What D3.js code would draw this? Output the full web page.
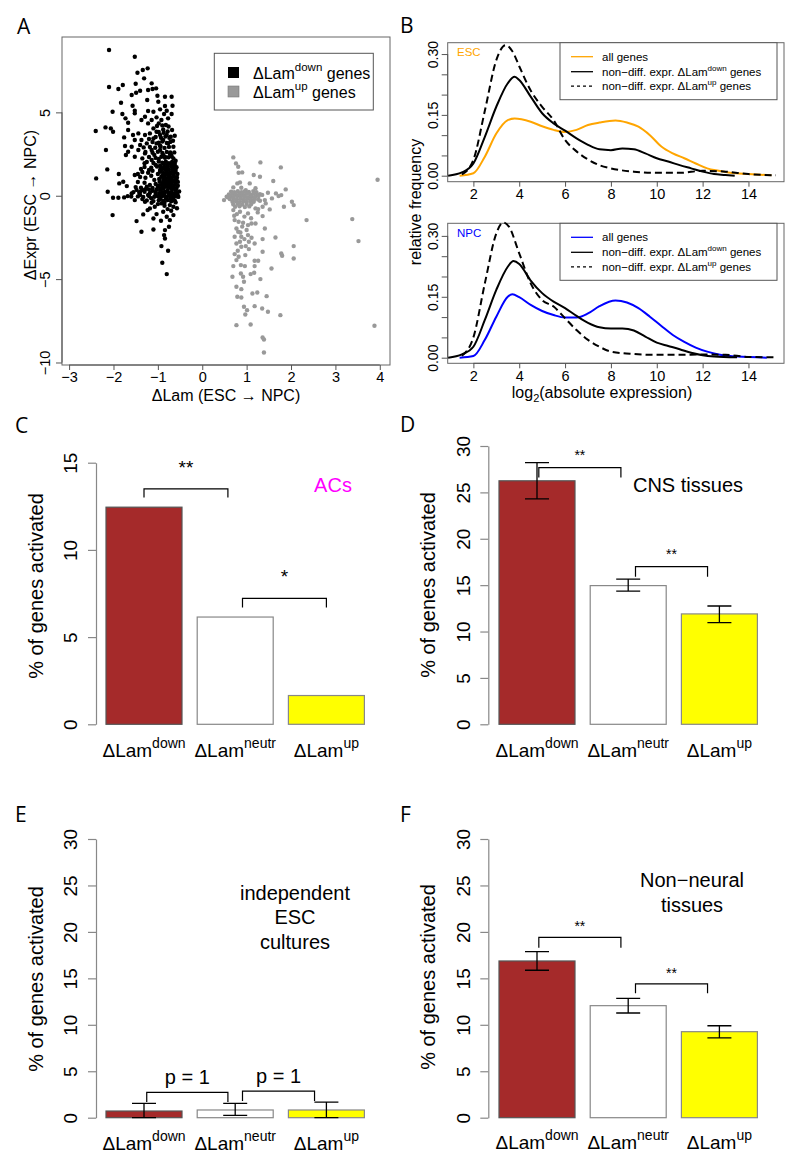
<!DOCTYPE html>
<html><head><meta charset="utf-8">
<script src="https://cdn.jsdelivr.net/npm/d3@7"></script>
<style>body{margin:0;background:#fff} text{font-family:"Liberation Sans",Arial,Helvetica,sans-serif}</style>
</head><body><script>
// ---------- DATA ----------
const lamDownPoints = [[-2.10,8.74],[-1.52,8.34],[-1.23,7.64],[-1.34,7.54],[-1.46,7.38],[-1.31,7.04],[-2.10,6.52],[-1.89,6.40],[-1.79,6.64],[-1.50,6.72],[-1.59,6.04],[-1.49,6.18],[-1.40,6.30],[-1.22,6.34],[-1.14,6.74],[-1.12,6.40],[-1.04,6.44],[-1.01,6.00],[-0.84,5.94],[-0.69,5.94],[-1.24,5.74],[-1.83,5.58],[-1.57,5.40],[-0.99,5.64],[-0.84,5.38],[-0.67,5.40],[-1.52,5.10],[-1.52,4.94],[-2.02,5.04],[-1.80,4.90],[-1.22,5.08],[-1.10,5.04],[-0.95,5.18],[-0.80,5.10],[-0.86,4.90],[-0.69,4.90],[-1.73,4.64],[-1.37,4.54],[-1.29,4.74],[-1.14,4.54],[-1.03,4.70],[-0.92,4.54],[-0.77,4.64],[-1.67,4.38],[-1.22,4.34],[-0.98,4.34],[-0.82,4.24],[-2.40,3.88],[-2.18,4.10],[-2.06,4.04],[-2.01,3.84],[-1.67,3.94],[-1.10,4.04],[-1.03,3.84],[-0.88,3.98],[-0.68,3.94],[-1.56,3.64],[-1.44,3.74],[-1.29,3.64],[-1.18,3.74],[-0.95,3.64],[-0.80,3.64],[-0.71,3.54],[-1.76,3.50],[-1.52,3.34],[-1.37,3.34],[-1.10,3.44],[-0.88,3.34],[-2.17,2.74],[-1.74,2.98],[-1.59,2.94],[-1.40,3.04],[-1.25,3.14],[-1.03,3.14],[-0.77,3.14],[-0.65,2.94],[-1.67,2.64],[-1.44,2.74],[-1.29,2.54],[-1.14,2.74],[-0.95,2.74],[-0.73,2.54],[-1.72,2.44],[-1.52,2.34],[-1.35,2.24],[-0.84,2.34],[-0.65,2.24],[-1.14,2.14],
[-2.14,1.58],[-2.39,1.04],[-1.88,1.30],[-1.52,1.24],[-1.87,0.74],[-1.78,0.84],[-1.70,0.58],[-2.13,0.24],[-2.01,-0.12],[-1.89,-0.12],[-1.76,-0.10],[-1.68,-0.02],[-1.59,0.14],[-1.52,-0.26],[-1.40,0.24],[-1.29,-0.36],[-1.14,-0.42],[-0.92,-0.46],[-0.73,-0.56],[-0.65,-0.66],[-2.02,-1.16],[-1.48,-1.52],[-1.33,-1.12],[-1.23,-0.86],[-1.10,-1.36],[-1.03,-1.10],[-0.93,-1.50],[-0.88,-0.96],[-0.80,-1.26],[-0.73,-1.46],[-0.65,-1.16],[-1.37,-2.16],[-1.10,-2.02],[-0.84,-2.06],[-0.75,-1.86],[-0.86,-2.36],[-0.84,-2.56],[-0.92,-3.02],[-0.77,-3.30],[-0.90,-4.02],[-0.80,-4.70],[-1.07,-0.66],[-1.18,-0.76],
[-1.25,2.02],[-1.10,1.96],[-0.98,2.05],[-0.90,1.98],[-0.82,2.04],[-0.75,1.95],[-0.68,2.03],[-0.62,1.97],
[-1.30,1.72],[-1.15,1.68],[-1.02,1.75],[-0.93,1.66],[-0.86,1.73],[-0.78,1.69],[-0.70,1.74],[-0.64,1.67],[-0.58,1.71],
[-1.35,1.42],[-1.22,1.38],[-0.95,1.44],[-0.88,1.36],[-0.80,1.41],[-0.72,1.37],[-0.66,1.45],[-0.60,1.39],
[-1.40,1.12],[-1.28,1.08],[-0.92,1.14],[-0.84,1.06],[-0.77,1.11],[-0.70,1.07],[-0.63,1.13],[-0.57,1.09],
[-1.45,0.82],[-1.30,0.78],[-0.96,0.84],[-0.89,0.76],[-0.82,0.81],[-0.74,0.77],[-0.68,0.85],[-0.61,0.79],[-0.55,0.83],
[-1.50,0.52],[-1.38,0.48],[-1.25,0.54],[-1.12,0.47],[-1.00,0.53],[-0.93,0.46],[-0.86,0.51],[-0.79,0.55],[-0.72,0.48],[-0.65,0.52],[-0.58,0.46],
[-1.55,0.22],[-1.42,0.18],[-1.30,0.24],[-1.18,0.17],[-1.05,0.23],[-0.97,0.16],[-0.90,0.21],[-0.83,0.25],[-0.76,0.18],[-0.70,0.22],[-0.63,0.15],[-0.56,0.20],[-0.52,0.26],
[-1.45,-0.04],[-1.33,-0.07],[-1.20,-0.02],[-1.08,-0.06],[-1.00,-0.03],[-0.93,-0.08],[-0.86,-0.01],[-0.80,-0.05],[-0.73,-0.02],[-0.67,-0.09],[-0.60,-0.04],[-0.54,-0.07],
[-1.25,-0.28],[-1.10,-0.32],[-0.98,-0.27],[-0.88,-0.31],[-0.78,-0.26],[-0.70,-0.33],[-0.62,-0.29],
[-1.20,2.32],[-1.05,2.27],[-0.92,2.34],[-0.84,2.28],[-0.76,2.31],[-0.69,2.36],
[-1.28,2.62],[-1.12,2.58],[-1.00,2.64],[-0.90,2.57],[-0.80,2.63],[-0.72,2.60],
[-1.18,2.92],[-1.06,2.88],[-0.94,2.95],[-0.85,2.87],[-0.75,2.93],
[-1.12,3.22],[-0.98,3.18],[-0.90,3.25],[-0.80,3.17],[-0.72,3.23],
[-1.05,3.52],[-0.93,3.48],[-0.83,3.55],[-0.74,3.47],
[-0.98,3.82],[-0.87,3.78],[-0.78,3.85],
[-1.02,4.18],[-0.90,4.22],[-0.76,4.15],
[-1.05,1.85],[-0.95,1.55],[-0.75,1.55],[-0.85,1.25],[-0.65,1.25],[-0.88,0.95],[-0.72,0.95],[-0.58,0.95],[-0.80,0.65],[-0.62,0.65],[-1.18,0.65],[-1.35,0.35],[-0.95,0.35],[-0.78,0.35],[-0.60,0.35],[-1.22,0.05],[-0.88,0.08],[-0.68,0.08],[-0.55,0.02],[-0.82,-0.18],[-0.66,-0.18],[-1.15,-0.15],[-1.35,-0.20],[-1.60,-0.05],[-1.00,-0.50],[-0.85,-0.60],[-0.78,-0.80],[-0.70,-0.90],[-0.60,-0.40],[-0.57,-0.75],
[-1.15,1.20],[-1.08,0.95],[-1.00,1.30],[-0.97,1.00],[-0.90,1.60],[-0.83,1.55],[-0.73,1.25],[-0.67,1.60],[-0.60,1.55],[-0.62,1.85],[-0.70,1.88],[-0.78,1.85],[-0.86,1.88],[-0.95,1.80],[-1.12,1.50],[-1.05,0.70],[-0.99,0.60],[-0.92,0.65],[-0.85,0.68],[-0.70,0.68],[-0.64,0.92],[-0.76,0.88],[-0.82,1.00],[-0.90,1.20],[-0.79,1.30],[-0.56,1.30],[-0.55,0.60],[-0.58,0.10],[-0.65,-0.05],[-0.75,0.05],[-0.85,0.15],[-0.95,0.05],[-1.05,0.10],[-1.12,0.30],[-1.20,0.38],[-1.28,0.40],[-1.40,0.05],[-1.48,0.35],[-0.68,0.38],[-0.74,0.62],[-0.88,0.42],[-1.03,0.38],[-0.98,2.20],[-0.88,2.45],[-0.70,2.45],[-0.63,2.60],[-0.60,2.10],[-1.30,1.95],[-1.38,1.60],[-1.45,1.30],[-1.20,1.55],[-1.08,2.45],[-0.95,3.00],[-0.66,3.30],[-0.62,3.60],[-1.20,3.40],[-1.32,2.90],[-0.85,-0.42],[-0.95,-0.20],[-0.72,-0.15]];

const lamUpPoints = [[0.70,2.30],[0.76,1.94],[0.81,1.74],[1.31,2.00],[1.77,1.70],[0.82,1.38],[0.90,1.40],[1.16,1.24],[1.30,1.14],[1.60,0.88],[0.79,0.74],[1.07,0.74],[0.88,0.48],[0.98,0.34],[1.88,0.38],[1.66,0.14],[1.78,0.04],[1.48,0.18],[1.72,-0.02],[1.57,-0.16],[2.02,-0.36],[2.06,-0.56],[1.84,-0.66],[1.41,-0.26],[1.36,-0.66],[1.43,-0.46],[1.52,-0.82],[0.49,-0.26],[0.58,-0.10],[0.70,-0.86],[0.85,-0.96],[1.03,-1.06],[1.20,-0.76],[1.26,-0.80],[0.73,-1.46],[0.82,-1.56],[0.92,-1.62],[1.03,-1.76],[1.11,-1.66],[1.20,-1.66],[1.36,-1.22],[1.41,-1.96],[0.77,-1.96],[0.81,-2.16],[0.73,-2.46],[0.88,-2.46],[1.03,-2.36],[1.11,-2.52],[1.65,-2.50],[1.36,-2.60],[0.77,-2.86],[0.85,-2.76],[1.05,-2.76],[1.18,-2.86],[0.88,-3.06],[0.98,-3.02],[2.06,-3.02],[1.36,-3.36],[1.78,-3.46],[1.80,-3.60],[0.73,-3.50],[0.82,-3.66],[0.97,-3.56],[0.77,-3.86],[1.18,-3.90],[1.26,-3.90],[2.06,-3.76],[0.70,-4.22],[0.87,-4.16],[0.96,-4.22],[1.18,-4.22],[1.56,-4.36],[0.68,-4.86],[0.87,-4.66],[0.92,-4.86],[1.09,-4.70],[1.17,-4.62],[1.31,-5.00],[0.94,-5.16],[0.77,-5.46],[0.88,-5.60],[1.13,-5.86],[1.24,-5.80],[1.45,-6.02],[0.79,-6.06],[0.88,-6.10],[0.94,-6.66],[1.01,-6.86],[1.18,-6.62],[1.35,-6.76],[1.48,-6.96],[1.76,-7.16],[0.97,-7.12],[0.77,-7.76],[1.09,-7.72],[1.36,-8.50],[1.39,-8.62],[1.39,-9.40],[2.35,-1.46],[3.38,-1.40],[3.52,-2.72],[3.95,0.96],[3.88,-7.80],
[0.65,0.25],[0.72,0.22],[0.80,0.27],[0.88,0.21],[0.95,0.26],[1.05,0.23],[1.15,0.28],[1.22,0.22],
[0.60,0.08],[0.68,0.12],[0.76,0.07],[0.84,0.11],[0.92,0.06],[1.00,0.12],[1.08,0.08],[1.16,0.13],[1.24,0.07],[1.30,0.10],
[0.55,-0.06],[0.63,-0.03],[0.71,-0.07],[0.79,-0.02],[0.87,-0.06],[0.95,-0.04],[1.03,-0.08],[1.11,-0.03],[1.19,-0.06],[1.27,-0.02],
[0.62,-0.20],[0.70,-0.17],[0.78,-0.22],[0.86,-0.18],[0.94,-0.21],[1.02,-0.16],[1.10,-0.22],[1.18,-0.19],[1.26,-0.23],
[0.68,-0.36],[0.76,-0.33],[0.84,-0.38],[0.92,-0.34],[1.00,-0.37],[1.08,-0.32],[1.16,-0.36],
[0.70,-0.52],[0.80,-0.48],[0.90,-0.53],[1.00,-0.49],[1.10,-0.51],
[0.74,-0.66],[0.84,-0.63],[0.96,-0.68],[1.06,-0.64],
[0.78,-1.10],[0.95,-1.25],[1.10,-1.35],[0.72,-1.20],[0.90,-1.85],[1.00,-2.05],[0.86,-2.20],[0.95,-2.60],[0.80,-3.30],[1.05,-3.20],[1.25,-1.00],[1.30,-0.30],[1.35,0.05],[1.20,0.45],[0.70,0.50],[0.85,0.80]];

const scatterXTicks = [-3,-2,-1,0,1,2,3,4];
const scatterYTicks = [-10,-5,0,5];

// densities (panel B)
const escAllX  = [1.4,2,2.5,3,3.5,3.8,4.5,5,5.5,6,6.5,7,7.5,8.2,8.7,9.2,9.7,10.2,10.7,11.2,11.7,12.2,12.7,13.2,14,15];
const escAllY  = [0,0.006,0.047,0.104,0.137,0.141,0.133,0.122,0.113,0.108,0.113,0.125,0.131,0.136,0.131,0.121,0.1,0.072,0.055,0.043,0.03,0.018,0.012,0.007,0.004,0.001];
const escDownX = [0.9,1.5,2,2.5,3,3.5,3.8,4,4.5,5,5.5,6,6.5,7,7.5,8,8.5,9,9.5,10,10.5,11,11.5,12,12.5,13,13.4];
const escDownY = [0,0.008,0.03,0.096,0.17,0.228,0.244,0.236,0.195,0.154,0.129,0.111,0.092,0.076,0.065,0.063,0.067,0.065,0.055,0.043,0.035,0.026,0.018,0.01,0.004,0.002,0];
const escUpX   = [1.5,2,2.5,3,3.4,3.7,4,4.5,5,5.5,6,6.5,7,7.5,8,9,10,11,12,13,14,15.2];
const escUpY   = [0.003,0.039,0.16,0.285,0.322,0.307,0.27,0.21,0.17,0.137,0.088,0.06,0.04,0.026,0.018,0.01,0.007,0.007,0.012,0.01,0.004,0.001];
const npcAllX  = [1.4,2,2.5,3,3.5,3.7,4,4.5,5,5.5,6,6.5,7,7.5,8.2,8.7,9.2,9.7,10.2,10.7,11.2,11.7,12.2,12.7,13.2,14,14.8];
const npcAllY  = [0,0.004,0.044,0.101,0.15,0.156,0.149,0.13,0.115,0.105,0.099,0.099,0.109,0.127,0.141,0.136,0.122,0.101,0.078,0.056,0.039,0.025,0.015,0.008,0.004,0.002,0];
const npcDownX = [0.9,1.5,2,2.5,3,3.5,3.75,4,4.5,5,5.5,6,6.5,7,7.5,8,8.5,9,9.5,10,10.5,11,11.5,12,12.5,13.5];
const npcDownY = [0,0.008,0.027,0.093,0.167,0.224,0.238,0.231,0.19,0.159,0.138,0.122,0.103,0.086,0.075,0.072,0.072,0.067,0.052,0.037,0.029,0.021,0.012,0.006,0.003,0.001];
const npcUpX   = [1.5,2,2.5,3,3.3,3.55,4,4.5,5,5.5,6,6.5,7,7.5,8,9,10,11,12,13,14,15.2];
const npcUpY   = [0.005,0.05,0.183,0.306,0.333,0.323,0.257,0.183,0.142,0.126,0.097,0.068,0.044,0.027,0.015,0.009,0.007,0.007,0.008,0.007,0.002,0.001];
const densXTicks = [2,4,6,8,10,12,14];
const densYTicks = [0,0.05,0.10,0.15,0.20,0.25,0.30];
const densYLabels = ["0.00","","","0.15","","","0.30"];

// bar panels
const categories = ["down","neutr","up"];
const barColors = ["#A52A2A","#FFFFFF","#FFFF00"];
const acsValues = [12.45,6.15,1.65];
const cnsValues = [26.25,14.95,11.9];
const cnsLow  = [24.3,14.35,10.95];
const cnsHigh = [28.2,15.65,12.75];
const escCultValues = [0.72,0.83,0.83];
const escCultLow  = [0,0.25,0];
const escCultHigh = [1.55,1.55,1.68];
const nonNeuralValues = [16.87,12.06,9.26];
const nonNeuralLow  = [15.87,11.27,8.6];
const nonNeuralHigh = [17.87,12.85,9.9];
const ticks15 = [0,5,10,15];
const ticks30 = [0,5,10,15,20,25,30];

// ---------- DRAW ----------
const svg = d3.select("body").append("svg").attr("width",800).attr("height",1166);
const FONT = '"Liberation Sans",Arial,Helvetica,sans-serif';

function panelLetter(t,x,y){
  svg.append("text").attr("x",x).attr("y",y).attr("font-size",21)
    .style("font-family",'"Open Sans","Noto Sans",sans-serif').text(t);
}
function lamText(g,x,y,sup,fs,supFs,suffix,anchor){
  const t = g.append("text").attr("x",x).attr("y",y).attr("font-size",fs)
    .attr("text-anchor",anchor||"middle");
  t.append("tspan").text("\u0394Lam");
  t.append("tspan").attr("font-size",supFs).attr("dy",-fs*0.45).text(sup);
  if(suffix) t.append("tspan").attr("dy",fs*0.45).text(suffix);
  return t;
}
function styleAxis(g,fs){
  g.attr("font-size",fs).attr("font-family",FONT);
  g.selectAll("line").attr("stroke","#555");
  g.selectAll("path").attr("stroke","#555");
  g.selectAll("text").attr("fill","#000");
}
function rotateYLabels(g,off){
  g.selectAll(".tick text").attr("transform","rotate(-90)").attr("x",0).attr("y",-off)
    .attr("dy",0).attr("text-anchor","middle");
}

// ===== Panel A =====
panelLetter("A",17,34.3);
const xA = d3.scaleLinear().domain([-3.16,4.23]).range([62,390]);
const yA = d3.scaleLinear().domain([-10.15,9.52]).range([365,37]);
svg.append("rect").attr("x",62).attr("y",37).attr("width",328).attr("height",328)
  .attr("fill","none").attr("stroke","#666").attr("stroke-width",1);
const axA = svg.append("g").attr("transform","translate(0,365)")
  .call(d3.axisBottom(xA).tickValues(scatterXTicks).tickSize(5).tickSizeOuter(0).tickPadding(2).tickFormat(d=>d<0?"\u2212"+(-d):d));
styleAxis(axA,14.5);
const ayA = svg.append("g").attr("transform","translate(62,0)")
  .call(d3.axisLeft(yA).tickValues(scatterYTicks).tickSize(6).tickSizeOuter(0).tickFormat(d=>d<0?"\u2212"+(-d):d));
styleAxis(ayA,14.5); rotateYLabels(ayA,12);
axA.select(".domain").attr("d",`M${xA(-3)},0H${xA(4)}`);
ayA.select(".domain").attr("d",`M0,${yA(-10)}V${yA(5)}`);
svg.append("g").selectAll("circle").data(lamUpPoints).join("circle")
  .attr("cx",d=>xA(d[0])).attr("cy",d=>yA(d[1])).attr("r",2.2).attr("fill","#999");
svg.append("g").selectAll("circle").data(lamDownPoints).join("circle")
  .attr("cx",d=>xA(d[0])).attr("cy",d=>yA(d[1])).attr("r",2.2).attr("fill","#000");
// legend A
svg.append("rect").attr("x",214.3).attr("y",53.3).attr("width",159).attr("height",56.7)
  .attr("fill","#fff").attr("stroke","#555");
svg.append("rect").attr("x",228).attr("y",67).attr("width",11).attr("height",11).attr("fill","#000");
svg.append("rect").attr("x",228).attr("y",86).attr("width",11).attr("height",11).attr("fill","#999").attr("stroke","#777").attr("stroke-width",0.6);
lamText(svg,253,78.5,"down",16,11.5," genes","start");
lamText(svg,253,97.5,"up",16,11.5," genes","start");
svg.append("text").attr("x",226).attr("y",401).attr("text-anchor","middle").attr("font-size",16)
  .text("\u0394Lam (ESC \u2192 NPC)");
svg.append("text").attr("transform","translate(36,205) rotate(-90)").attr("text-anchor","middle")
  .attr("font-size",16).text("\u0394Expr (ESC \u2192 NPC)");

// ===== Panel B =====
panelLetter("B",400,33.3);
const xB = d3.scaleLinear().domain([0.88,15.55]).range([447.7,784]);
function densPanel(top,bottom,yDomain,series,label,labelColor,legendTop){
  const yB = d3.scaleLinear().domain(yDomain).range([bottom,top]);
  svg.append("rect").attr("x",447.7).attr("y",top).attr("width",336.3).attr("height",bottom-top)
    .attr("fill","none").attr("stroke","#666");
  const ax = svg.append("g").attr("transform",`translate(0,${bottom})`)
    .call(d3.axisBottom(xB).tickValues(densXTicks).tickSize(5).tickSizeOuter(0).tickPadding(2));
  styleAxis(ax,14.5);
  ax.select(".domain").attr("d",`M${xB(2)},0H${xB(14)}`);
  const ay = svg.append("g").attr("transform","translate(447.7,0)")
    .call(d3.axisLeft(yB).tickValues(densYTicks).tickSize(6).tickSizeOuter(0).tickFormat((d,i)=>densYLabels[i]));
  styleAxis(ay,14); rotateYLabels(ay,10);
  ay.select(".domain").attr("d",`M0,${yB(0)}V${yB(0.30)}`);
  const line = d3.line().x(d=>xB(d[0])).y(d=>yB(d[1])).curve(d3.curveMonotoneX);
  series.forEach(s=>{
    const pts = s.x.map((v,i)=>[v,s.y[i]]);
    svg.append("path").attr("d",line(pts)).attr("fill","none").attr("stroke",s.color)
      .attr("stroke-width",2).attr("stroke-dasharray",s.dash||null);
  });
  svg.append("text").attr("x",457).attr("y",top+13.5).attr("font-size",11.5).attr("fill",labelColor).text(label);
  // legend
  svg.append("rect").attr("x",560).attr("y",legendTop).attr("width",217).attr("height",57)
    .attr("fill","#fff").attr("stroke","#555");
  const rows=[legendTop+14,legendTop+29,legendTop+43.5];
  series.forEach((s,i)=>{
    svg.append("line").attr("x1",571).attr("x2",593).attr("y1",rows[i]).attr("y2",rows[i])
      .attr("stroke",s.color).attr("stroke-width",1.3).attr("stroke-dasharray",s.dash?"3,3":null);
  });
  svg.append("text").attr("x",602).attr("y",rows[0]+4).attr("font-size",11.5).text("all genes");
  const t1 = svg.append("text").attr("x",602).attr("y",rows[1]+4).attr("font-size",11.5);
  t1.append("tspan").text("non\u2212diff. expr. \u0394Lam");
  t1.append("tspan").attr("font-size",8).attr("dy",-5).text("down");
  t1.append("tspan").attr("dy",5).text(" genes");
  const t2 = svg.append("text").attr("x",602).attr("y",rows[2]+4).attr("font-size",11.5);
  t2.append("tspan").text("non\u2212diff. expr. \u0394Lam");
  t2.append("tspan").attr("font-size",8).attr("dy",-5).text("up");
  t2.append("tspan").attr("dy",5).text(" genes");
}
densPanel(42.7,181.7,[-0.0148,0.328],[
  {x:escAllX,y:escAllY,color:"#FFA500"},
  {x:escDownX,y:escDownY,color:"#000"},
  {x:escUpX,y:escUpY,color:"#000",dash:"7,4"}],"ESC","#FFA500",42.7);
densPanel(223.3,363.3,[-0.0138,0.331],[
  {x:npcAllX,y:npcAllY,color:"#0000FF"},
  {x:npcDownX,y:npcDownY,color:"#000"},
  {x:npcUpX,y:npcUpY,color:"#000",dash:"7,4"}],"NPC","#0000FF",223.3);
svg.append("text").attr("transform","translate(421,202) rotate(-90)").attr("text-anchor","middle")
  .attr("font-size",16).text("relative frequency");
const xl = svg.append("text").attr("x",602).attr("y",398).attr("text-anchor","middle").attr("font-size",16);
xl.append("tspan").text("log");
xl.append("tspan").attr("font-size",11).attr("dy",4).text("2");
xl.append("tspan").attr("dy",-4).text("(absolute expression)");

// ===== Bar panels =====
function barPanel(o){
  const g = svg.append("g");
  const y = d3.scaleLinear().domain([0,o.max]).range([o.y0,o.yTop]);
  const x = d3.scaleBand().domain(categories).range([o.barStart,o.barEnd]).paddingInner(1/6).paddingOuter(0);
  const cx = i => x(categories[i]) + x.bandwidth()/2;
  const pos = p => { const i=Math.floor(p), f=p-i; return i>=2? cx(2) : cx(i)+f*(cx(i+1)-cx(i)); };
  const ay = g.append("g").attr("transform",`translate(${o.axisX},0)`)
    .call(d3.axisLeft(y).tickValues(o.ticks).tickSize(8).tickSizeOuter(0));
  styleAxis(ay,19); rotateYLabels(ay,o.tickOff);
  ay.selectAll("line,path").attr("stroke","#888").attr("stroke-width",1.2);
  g.selectAll("rect.bar").data(o.values).join("rect").attr("class","bar")
    .attr("x",(d,i)=>x(categories[i])).attr("width",x.bandwidth())
    .attr("y",d=>y(d)).attr("height",d=>y(0)-y(d))
    .attr("fill",(d,i)=>barColors[i]).attr("stroke",(d,i)=>i===0?"#555":"#888").attr("stroke-width",1.2);
  if(o.low){
    o.values.forEach((v,i)=>{
      const c=cx(i), lo=y(o.low[i]), hi=y(o.high[i]);
      g.append("path").attr("d",`M${c},${lo}V${hi}M${c-12},${hi}H${c+12}M${c-12},${lo}H${c+12}`)
        .attr("stroke","#000").attr("stroke-width",1.3).attr("fill","none");
    });
  }
  o.brackets.forEach(b=>{
    const x1=pos(b[0]), x2=pos(b[1]), yt=y(b[2]), yl=y(b[3]);
    g.append("path").attr("d",`M${x1},${yl}V${yt}H${x2}V${yl}`).attr("fill","none")
      .attr("stroke","#000").attr("stroke-width",1.2);
    g.append("text").attr("x",(x1+x2)/2).attr("y",yt-o.sigGap).attr("text-anchor","middle")
      .attr("font-size",o.sigFs).text(b[4]);
  });
  categories.forEach((c,i)=> lamText(g,cx(i),o.catY,c,19,14));
  g.append("text").attr("transform",`translate(${o.ylabX},${o.ylabY}) rotate(-90)`)
    .attr("text-anchor","middle").attr("font-size",20).text("% of genes activated");
  return g;
}

// C
panelLetter("C",15,433);
barPanel({axisX:96,y0:724.3,yTop:462.7,max:15,ticks:ticks15,tickOff:19,barStart:106,barEnd:364.4,
  values:acsValues,brackets:[[0,0.92,13.5,13.0,"**"],[1.08,2,7.22,6.7,"*"]],sigFs:19,sigGap:15,
  catY:756.5,ylabX:43,ylabY:586});
svg.append("text").attr("x",333).attr("y",491.5).attr("text-anchor","middle").attr("font-size",20)
  .attr("fill","#FF00FF").text("ACs");

// D
panelLetter("D",400,432);
barPanel({axisX:488.3,y0:724.3,yTop:446,max:30,ticks:ticks30,tickOff:18.5,barStart:499,barEnd:757.4,
  values:cnsValues,low:cnsLow,high:cnsHigh,brackets:[[0.02,0.92,27.66,26.6,"**"],[1.08,1.87,17.0,15.9,"**"]],sigFs:14,sigGap:8,
  catY:756.5,ylabX:435,ylabY:585});
svg.append("text").attr("x",688).attr("y",491.5).attr("text-anchor","middle").attr("font-size",20).text("CNS tissues");

// E
panelLetter("E",15,822);
barPanel({axisX:96,y0:1117.7,yTop:839,max:30,ticks:ticks30,tickOff:19,barStart:106,barEnd:364.4,
  values:escCultValues,low:escCultLow,high:escCultHigh,brackets:[[0.03,0.92,2.72,1.7,"p = 1"],[1.08,1.87,2.86,1.8,"p = 1"]],sigFs:20,sigGap:8,
  catY:1149.5,ylabX:43,ylabY:979});
["independent","ESC","cultures"].forEach((t,i)=>
  svg.append("text").attr("x",295).attr("y",[900,924,948.5][i]).attr("text-anchor","middle").attr("font-size",20).text(t));

// F
panelLetter("F",400,822);
barPanel({axisX:488.3,y0:1117.7,yTop:839,max:30,ticks:ticks30,tickOff:18.5,barStart:499,barEnd:757.4,
  values:nonNeuralValues,low:nonNeuralLow,high:nonNeuralHigh,brackets:[[0.02,0.92,19.4,18.3,"**"],[1.08,1.87,14.4,13.4,"**"]],sigFs:14,sigGap:6,
  catY:1149,ylabX:435,ylabY:977});
["Non\u2212neural","tissues"].forEach((t,i)=>
  svg.append("text").attr("x",692).attr("y",[887,912][i]).attr("text-anchor","middle").attr("font-size",20).text(t));
</script></body></html>
